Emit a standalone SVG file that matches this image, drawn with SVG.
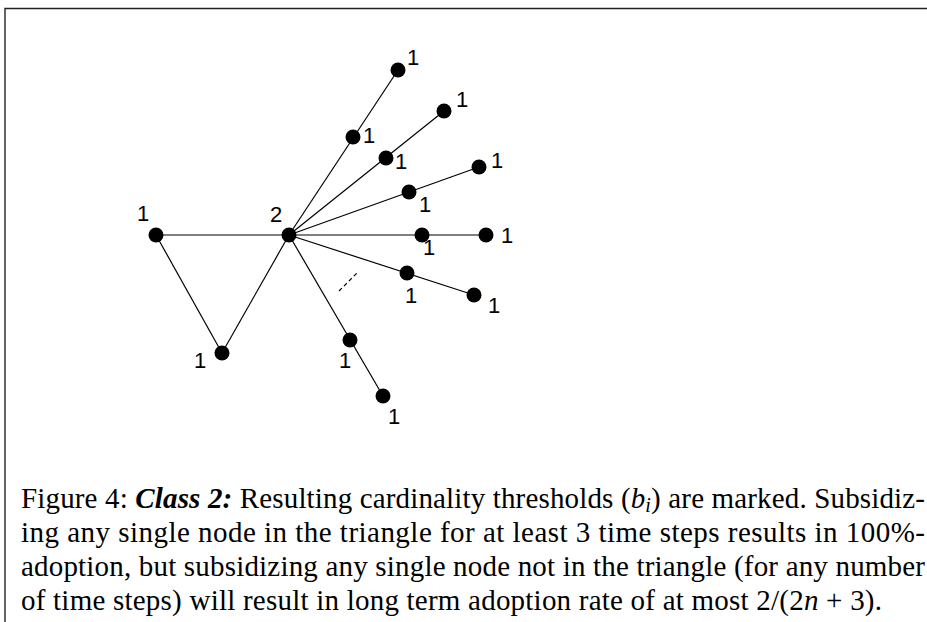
<svg xmlns="http://www.w3.org/2000/svg" width="927" height="622" viewBox="0 0 927 622">
<style>
.e{stroke:#000;stroke-width:1.2;fill:none}
.n{fill:#000}
.l{font-family:"Liberation Sans",Arial,sans-serif;font-size:22px;fill:#000;text-anchor:middle}
.c{font-family:"Liberation Serif","Times New Roman",serif;font-size:29px;fill:#000}
.b{stroke:#222;stroke-width:1.4;fill:none}
</style>
<rect width="927" height="622" fill="#fff"/>
<path class="b" d="M5,622 V8.5 H927"/>
<g id="connectors">
<line class="e" x1="156" y1="235" x2="289" y2="235"/>
<line class="e" x1="156" y1="235" x2="222" y2="353"/>
<line class="e" x1="222" y1="353" x2="289" y2="235"/>
<line class="e" x1="289" y1="235" x2="398" y2="70"/>
<line class="e" x1="289" y1="235" x2="444" y2="111"/>
<line class="e" x1="289" y1="235" x2="479" y2="167"/>
<line class="e" x1="289" y1="235" x2="486" y2="235"/>
<line class="e" x1="289" y1="235" x2="474" y2="295"/>
<line class="e" x1="289" y1="235" x2="383" y2="396"/>
<line class="e" x1="339" y1="291" x2="357" y2="273" stroke-dasharray="4,3"/>
</g>
<g id="n-left"><circle class="n" cx="156" cy="235" r="7.5"/><text class="l" x="143" y="221">1</text></g>
<g id="n-bottom"><circle class="n" cx="222" cy="353" r="7.5"/><text class="l" x="200" y="368">1</text></g>
<g id="n-center"><circle class="n" cx="289" cy="235" r="7.5"/><text class="l" x="276" y="222">2</text></g>
<g id="n-a1"><circle class="n" cx="353" cy="137" r="7.5"/><text class="l" x="369" y="143">1</text></g>
<g id="n-a2"><circle class="n" cx="398" cy="70" r="7.5"/><text class="l" x="413" y="65">1</text></g>
<g id="n-b1"><circle class="n" cx="386" cy="158" r="7.5"/><text class="l" x="401" y="169">1</text></g>
<g id="n-b2"><circle class="n" cx="444" cy="111" r="7.5"/><text class="l" x="462" y="107">1</text></g>
<g id="n-c1"><circle class="n" cx="409" cy="192" r="7.5"/><text class="l" x="425" y="212">1</text></g>
<g id="n-c2"><circle class="n" cx="479" cy="167" r="7.5"/><text class="l" x="497" y="168">1</text></g>
<g id="n-d1"><circle class="n" cx="422" cy="235" r="7.5"/><text class="l" x="429" y="255">1</text></g>
<g id="n-d2"><circle class="n" cx="486" cy="235" r="7.5"/><text class="l" x="507" y="243">1</text></g>
<g id="n-e1"><circle class="n" cx="407" cy="273" r="7.5"/><text class="l" x="411" y="303">1</text></g>
<g id="n-e2"><circle class="n" cx="474" cy="295" r="7.5"/><text class="l" x="494" y="313">1</text></g>
<g id="n-f1"><circle class="n" cx="350" cy="340" r="7.5"/><text class="l" x="345" y="368">1</text></g>
<g id="n-f2"><circle class="n" cx="383" cy="396" r="7.5"/><text class="l" x="394" y="424">1</text></g>
<g id="caption">
<text class="c" x="21" y="508" textLength="904" lengthAdjust="spacing">Figure 4: <tspan font-weight="bold" font-style="italic">Class 2:</tspan> Resulting cardinality thresholds (<tspan font-style="italic">b</tspan><tspan font-style="italic" font-size="20" dy="4">i</tspan><tspan dy="-4">)</tspan> are marked. Subsidiz-</text>
<text class="c" x="21" y="542" textLength="904" lengthAdjust="spacing">ing any single node in the triangle for at least 3 time steps results in 100%-</text>
<text class="c" x="21" y="576" textLength="904" lengthAdjust="spacing">adoption, but subsidizing any single node not in the triangle (for any number</text>
<text class="c" x="21" y="610" textLength="861" lengthAdjust="spacing">of time steps) will result in long term adoption rate of at most 2/(2<tspan font-style="italic">n</tspan> + 3).</text>
</g>
</svg>
